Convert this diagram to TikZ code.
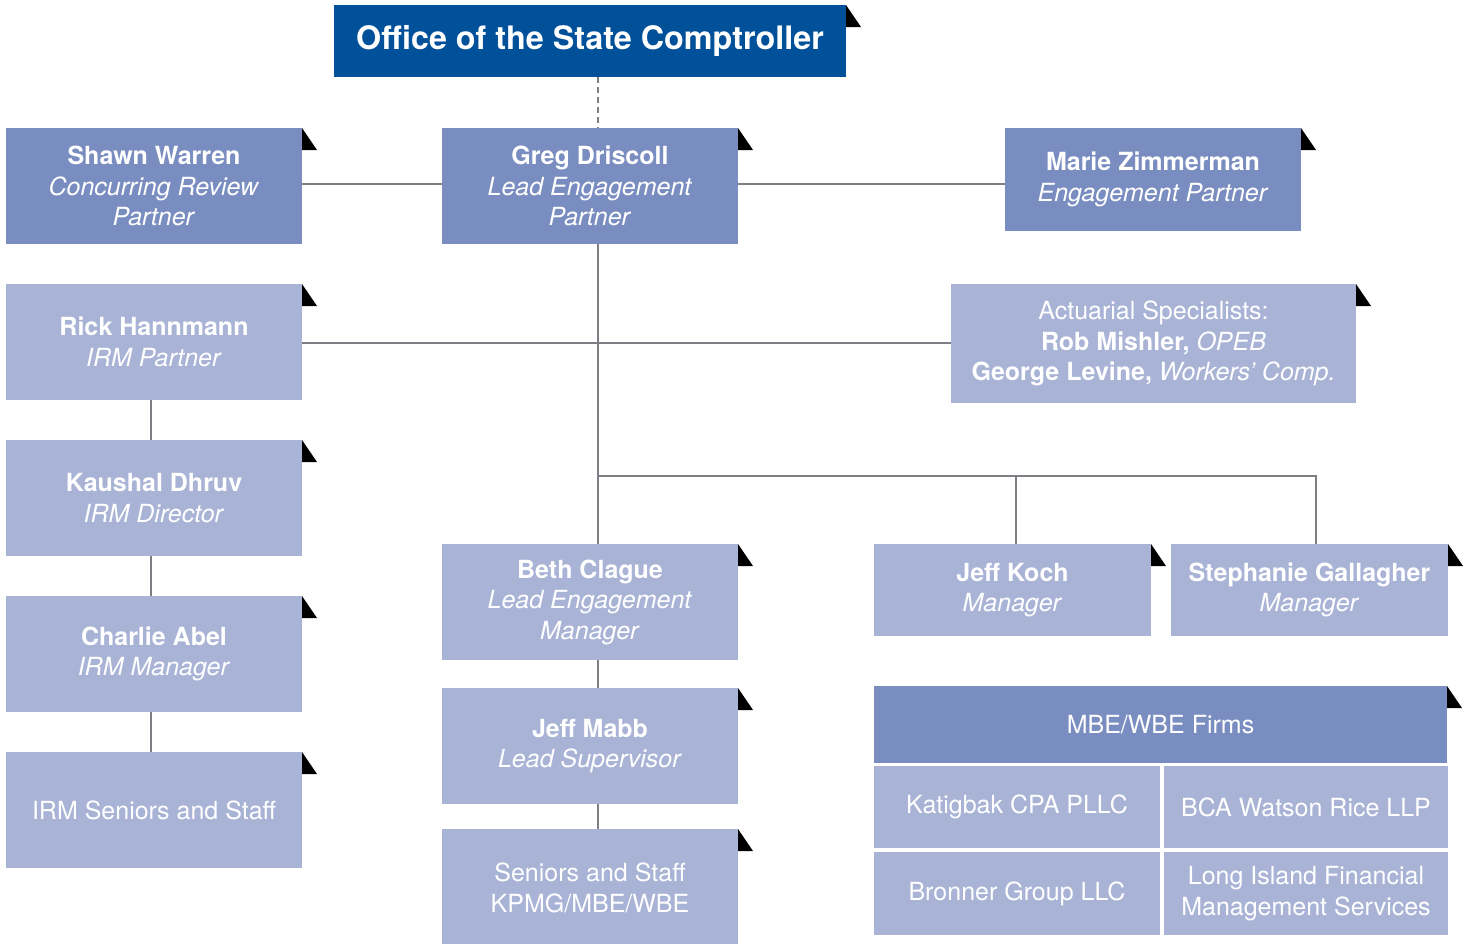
\documentclass[tikz,border=0pt]{standalone}
\usepackage{fontspec}
\setmainfont{TeX Gyre Heros}
\definecolor{dark}{HTML}{00509A}
\definecolor{mid}{HTML}{7A8DC0}
\definecolor{light}{HTML}{A8B3D6}
\definecolor{conn}{HTML}{7E7E84}
\newcommand\obox[7]{%
  \node[box, fill=#2, minimum width=#5pt, minimum height=#6pt] (#1) at (#3,#4) {#7};}
\newcommand\otri[1]{\fill[black] (#1.north east) -- ++(0,22) -- ++(15,0) -- cycle;}
\begin{document}
\begin{tikzpicture}[x=1pt,y=-1pt,
  box/.style={anchor=north west, inner sep=0pt, outer sep=0pt, text=white, align=center,
    font=\fontsize{25}{30.5}\selectfont},
  link/.style={draw=conn, line width=2pt},
  dlink/.style={draw=conn, line width=2pt, dash pattern=on 6pt off 4pt}]
\useasboundingbox (0,0) rectangle (1472,943);
\clip (0,0) rectangle (1472,943);

% boxes
\node[box, fill=dark, minimum width=512pt, minimum height=72pt,
  font=\fontsize{32.3}{38}\selectfont\bfseries] (top) at (334,5) {Office of the State Comptroller};
\obox{shawn}{mid}{6}{128}{296}{116}{\textbf{Shawn Warren}\\\textit{Concurring Review}\\\textit{Partner}}
\obox{greg}{mid}{442}{128}{296}{116}{\textbf{Greg Driscoll}\\\textit{Lead Engagement}\\\textit{Partner}}
\obox{marie}{mid}{1005}{128}{296}{103}{\textbf{Marie Zimmerman}\\\textit{Engagement Partner}}
\obox{rick}{light}{6}{284}{296}{116}{\textbf{Rick Hannmann}\\\textit{IRM Partner}}
\obox{act}{light}{951}{284}{405}{119}{Actuarial Specialists:\\\textbf{Rob Mishler,} \textit{OPEB}\\\textbf{George Levine,} \textit{Workers’ Comp.}}
\obox{kaushal}{light}{6}{440}{296}{116}{\textbf{Kaushal Dhruv}\\\textit{IRM Director}}
\obox{charlie}{light}{6}{596}{296}{116}{\textbf{Charlie Abel}\\\textit{IRM Manager}}
\obox{irmstaff}{light}{6}{752}{296}{116}{IRM Seniors and Staff}
\obox{beth}{light}{442}{544}{296}{116}{\textbf{Beth Clague}\\\textit{Lead Engagement}\\\textit{Manager}}
\obox{mabb}{light}{442}{688}{296}{116}{\textbf{Jeff Mabb}\\\textit{Lead Supervisor}}
\obox{staff}{light}{442}{829}{296}{118}{Seniors and Staff\\KPMG/MBE/WBE}
\obox{koch}{light}{874}{544}{277}{92}{\textbf{Jeff Koch}\\\textit{Manager}}
\obox{steph}{light}{1171}{544}{277}{92}{\textbf{Stephanie Gallagher}\\\textit{Manager}}
\obox{mbe}{mid}{874}{686}{573}{77}{MBE/WBE Firms}
\obox{kat}{light}{874}{766}{286}{82}{Katigbak CPA PLLC}
\obox{bca}{light}{1164}{766}{284}{82}{BCA Watson Rice LLP}
\obox{bron}{light}{874}{852}{286}{83}{Bronner Group LLC}
\obox{lif}{light}{1164}{852}{284}{83}{Long Island Financial\\Management Services}

% corner marks
\foreach \n in {top,shawn,greg,marie,rick,act,kaushal,charlie,irmstaff,beth,mabb,staff,koch,steph,mbe}{\otri{\n}}

% connectors
\coordinate (sx) at (598,0);
\coordinate (lx) at (151,0);
\coordinate (bj) at (598,476);
\coordinate (kx) at (1016,476);
\coordinate (stx) at (1316,476);
\draw[dlink] (sx |- top.south) -- (sx |- greg.north);
\draw[link] (shawn.east |- 0,184) -- (greg.west |- 0,184);
\draw[link] (greg.east |- 0,184) -- (marie.west |- 0,184);
\draw[link] (sx |- greg.south) -- (sx |- beth.north);
\draw[link] (rick.east |- 0,343) -- (act.west |- 0,343);
\draw[link] (bj) -- (stx) -- (stx |- steph.north);
\draw[link] (kx) -- (kx |- koch.north);
\draw[link] (lx |- rick.south) -- (lx |- kaushal.north);
\draw[link] (lx |- kaushal.south) -- (lx |- charlie.north);
\draw[link] (lx |- charlie.south) -- (lx |- irmstaff.north);
\draw[link] (sx |- beth.south) -- (sx |- mabb.north);
\draw[link] (sx |- mabb.south) -- (sx |- staff.north);
\end{tikzpicture}
\end{document}
